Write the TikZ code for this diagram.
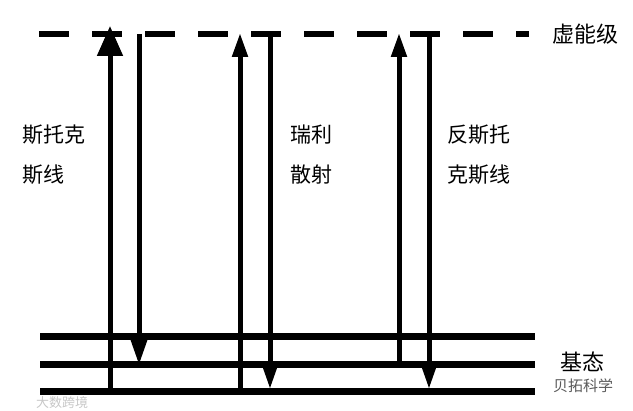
\documentclass[tikz,border=0pt]{standalone}
\usepackage{fontspec}
\newfontfamily\cjk{Noto Sans CJK SC}
\usetikzlibrary{arrows.meta}
\begin{document}
\begin{tikzpicture}[x=1pt,y=-1pt,
  level/.style={line width=7pt},
  virt/.style={line width=6pt,dash pattern=on 30pt off 23pt},
  shaft/.style={line width=5pt},
  bighead/.style={shaft,-{Triangle[length=30pt,width=25pt]}},
  smallhead/.style={shaft,-{Triangle[length=24pt,width=15pt]}},
  downhead/.style={shaft,-{Triangle[length=26pt,width=16pt]}},
  lab/.style={font=\cjk\fontsize{21}{26}\selectfont,inner sep=0pt,anchor=base west},
  sidelab/.style={font=\cjk\fontsize{22}{26}\selectfont,inner sep=0pt,anchor=base west},
  wmark/.style={font=\cjk\fontsize{15}{18}\selectfont,inner sep=0pt,anchor=base west}]
\useasboundingbox (0,0) rectangle (633,411);
% virtual level
\coordinate (vL) at (39,34);
\coordinate (vR) at (529,34);
\draw[virt] (vL) -- (vR);
% ground-state levels
\coordinate (aL) at (40,337); \coordinate (aR) at (535,337);
\coordinate (bL) at (40,365); \coordinate (bR) at (535,365);
\coordinate (cL) at (40,392); \coordinate (cR) at (535,392);
\draw[level] (aL) -- (aR);
\draw[level] (bL) -- (bR);
\draw[level] (cL) -- (cR);
% Stokes
\coordinate (s1a) at (110,392); \coordinate (s1b) at (110,26);
\coordinate (s2a) at (139,34);  \coordinate (s2b) at (139,365);
\draw[bighead] (s1a) -- (s1b);
\draw[downhead] (s2a) -- (s2b);
% Rayleigh
\coordinate (r1a) at (240,392); \coordinate (r1b) at (240,33);
\coordinate (r2a) at (270,34);  \coordinate (r2b) at (270,389);
\draw[smallhead] (r1a) -- (r1b);
\draw[downhead] (r2a) -- (r2b);
% anti-Stokes
\coordinate (t1a) at (399,365); \coordinate (t1b) at (399,33);
\coordinate (t2a) at (429,34);  \coordinate (t2b) at (429,389);
\draw[smallhead] (t1a) -- (t1b);
\draw[downhead] (t2a) -- (t2b);
% labels
\node[lab] (st1) at (22,143) {斯托克};
\node[lab] (st2) at (22,183) {斯线};
\node[lab] (ra1) at (290,143) {瑞利};
\node[lab] (ra2) at (290,183) {散射};
\node[lab] (as1) at (447,143) {反斯托};
\node[lab] (as2) at (447,183) {克斯线};
\node[sidelab] (virtlab) at (552,43) {虚能级};
\node[sidelab] (groundlab) at (560,371) {基态};
\node[wmark,text=black!65] (wm1) at (553,392) {贝拓科学};
\node[wmark,text=black!22,font=\cjk\fontsize{13}{16}\selectfont] (wm2) at (36,408) {大数跨境};
\end{tikzpicture}
\end{document}
